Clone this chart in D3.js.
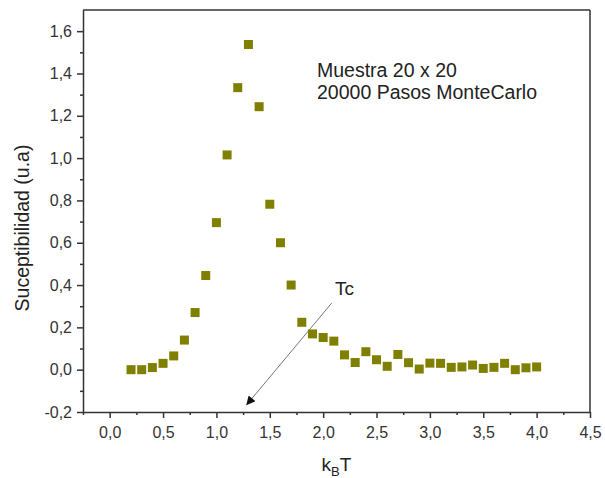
<!DOCTYPE html>
<html>
<head>
<meta charset="utf-8">
<script src="https://cdn.jsdelivr.net/npm/d3@7"></script>
<style>
  body { margin: 0; background: #fff; }
  text { font-family: "Liberation Sans", Arial, sans-serif; }
</style>
</head>
<body>
<div id="chart"></div>
<script>
// temperature (k_B T) and susceptibility readings
const temps = [0.2, 0.3, 0.4, 0.5, 0.6, 0.7, 0.8, 0.9, 1.0, 1.1, 1.2, 1.3, 1.4, 1.5,
  1.6, 1.7, 1.8, 1.9, 2.0, 2.1, 2.2, 2.3, 2.4, 2.5, 2.6, 2.7, 2.8, 2.9, 3.0,
  3.1, 3.2, 3.3, 3.4, 3.5, 3.6, 3.7, 3.8, 3.9, 4.0];
const chi = [0.0, 0.0, 0.01, 0.03, 0.065, 0.14, 0.27, 0.445, 0.695, 1.015, 1.333, 1.537,
  1.243, 0.782, 0.60, 0.40, 0.224, 0.169, 0.152, 0.135, 0.07, 0.034, 0.085, 0.047,
  0.016, 0.072, 0.033, 0.003, 0.031, 0.030, 0.011, 0.013, 0.022, 0.006, 0.011,
  0.030, 0.0, 0.009, 0.013];
const xTicks = [0, 0.5, 1, 1.5, 2, 2.5, 3, 3.5, 4, 4.5];
const yTicks = [-0.2, 0, 0.2, 0.4, 0.6, 0.8, 1.0, 1.2, 1.4, 1.6];
const infoLines = ["Muestra 20 x 20", "20000 Pasos MonteCarlo"];
// Tc arrow: start and tip in data units
const tcArrow = { x1: 2.08, y1: 0.315, x2: 1.285, y2: -0.165 };

const width = 605, height = 478;
const margin = { top: 10, right: 15, bottom: 66, left: 83 };

const svg = d3.select("#chart").append("svg")
  .attr("width", width)
  .attr("height", height);

const x = d3.scaleLinear().domain([-0.25, 4.5]).range([margin.left, width - margin.right]);
const y = d3.scaleLinear().domain([-0.2, 1.7]).range([height - margin.bottom, margin.top]);

const loc = d3.formatLocale({ decimal: ",", thousands: ".", grouping: [3], currency: ["", ""], minus: "-" });
const fmt = loc.format(".1f");

const axisColor = "#333";

// minor ticks
svg.append("g")
  .attr("transform", `translate(0,${y.range()[0]})`)
  .call(d3.axisBottom(x).tickValues(d3.range(-0.25, 4.6, 0.5)).tickSize(3).tickFormat(""))
  .call(g => g.select(".domain").remove())
  .call(g => g.selectAll("line").attr("stroke", axisColor).attr("stroke-width", 1.5));

svg.append("g")
  .attr("transform", `translate(${x.range()[0]},0)`)
  .call(d3.axisLeft(y).tickValues(d3.range(-0.1, 1.7, 0.2)).tickSize(3).tickFormat(""))
  .call(g => g.select(".domain").remove())
  .call(g => g.selectAll("line").attr("stroke", axisColor).attr("stroke-width", 1.5));

// major axes
const xAxis = svg.append("g")
  .attr("transform", `translate(0,${y.range()[0]})`)
  .call(d3.axisBottom(x).tickValues(xTicks).tickSize(6).tickSizeOuter(0).tickPadding(9).tickFormat(fmt));

const yAxis = svg.append("g")
  .attr("transform", `translate(${x.range()[0]},0)`)
  .call(d3.axisLeft(y).tickValues(yTicks).tickSize(6).tickSizeOuter(0).tickPadding(5).tickFormat(fmt));

[xAxis, yAxis].forEach(a => {
  a.select(".domain").attr("stroke", axisColor).attr("stroke-width", 1.5);
  a.selectAll(".tick line").attr("stroke", axisColor).attr("stroke-width", 1.5);
  a.selectAll(".tick text")
    .attr("fill", "#333")
    .style("font-size", "16px")
    .style("font-family", "'Liberation Sans', Arial, sans-serif");
});

// top and right frame
svg.append("line")
  .attr("x1", x.range()[0]).attr("x2", x.range()[1])
  .attr("y1", y.range()[1]).attr("y2", y.range()[1])
  .attr("stroke", axisColor).attr("stroke-width", 1.5);
svg.append("line")
  .attr("x1", x.range()[1]).attr("x2", x.range()[1])
  .attr("y1", y.range()[1]).attr("y2", y.range()[0])
  .attr("stroke", axisColor).attr("stroke-width", 1.5);

// data squares
const pts = temps.map((t, i) => ({ t: t, v: chi[i] }));
const sq = 9;
svg.append("g")
  .selectAll("rect")
  .data(pts)
  .enter()
  .append("rect")
  .attr("x", d => x(d.t) - sq / 2)
  .attr("y", d => y(d.v) - sq / 2)
  .attr("width", sq)
  .attr("height", sq)
  .attr("fill", "#808000");

// axis titles
const xt = svg.append("text")
  .attr("x", (x.range()[0] + x.range()[1]) / 2)
  .attr("y", 471)
  .attr("text-anchor", "middle")
  .attr("fill", "#222")
  .style("font-size", "19px");
xt.append("tspan").text("k");
xt.append("tspan").attr("dy", 5).style("font-size", "13px").text("B");
xt.append("tspan").attr("dy", -5).text("T");

svg.append("text")
  .attr("transform", "translate(29,228) rotate(-90)")
  .attr("text-anchor", "middle")
  .attr("fill", "#222")
  .style("font-size", "19.5px")
  .text("Suceptibilidad (u.a)");

// annotation text
svg.append("g")
  .selectAll("text")
  .data(infoLines)
  .enter()
  .append("text")
  .attr("x", 317)
  .attr("y", (d, i) => 77 + i * 22)
  .attr("fill", "#222")
  .style("font-size", "19.5px")
  .text(d => d);

// Tc arrow
svg.append("defs").append("marker")
  .attr("id", "arrow")
  .attr("viewBox", "0 0 10 10")
  .attr("refX", 9).attr("refY", 5)
  .attr("markerWidth", 12).attr("markerHeight", 9)
  .attr("markerUnits", "userSpaceOnUse")
  .attr("orient", "auto")
  .append("path")
  .attr("d", "M0,0 L10,5 L0,10 Z")
  .attr("fill", "#111");

svg.append("line")
  .attr("x1", x(tcArrow.x1)).attr("y1", y(tcArrow.y1))
  .attr("x2", x(tcArrow.x2)).attr("y2", y(tcArrow.y2))
  .attr("stroke", "#777")
  .attr("stroke-width", 1)
  .attr("marker-end", "url(#arrow)");

svg.append("text")
  .attr("x", 335)
  .attr("y", 295)
  .attr("fill", "#222")
  .style("font-size", "19px")
  .text("Tc");
</script>
</body>
</html>
